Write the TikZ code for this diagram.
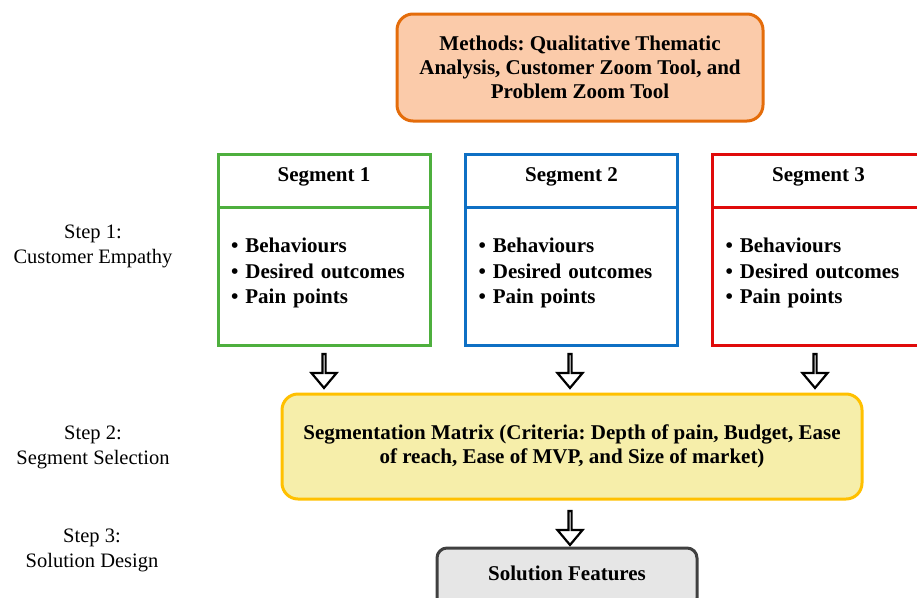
\documentclass[tikz,border=0pt]{standalone}
\usepackage{fontspec}
\setmainfont{Liberation Serif}
\usetikzlibrary{shapes.arrows}
\definecolor{methodsline}{HTML}{E46C0A}
\definecolor{methodsfill}{HTML}{FBCBAA}
\definecolor{segone}{HTML}{4EAF3E}
\definecolor{segtwo}{HTML}{0F70C4}
\definecolor{segthree}{HTML}{E00A0A}
\definecolor{matrixline}{HTML}{FFC000}
\definecolor{matrixfill}{HTML}{F6EEAA}
\definecolor{solline}{HTML}{404040}
\definecolor{solfill}{HTML}{E6E6E6}
\frenchspacing
\newcommand{\boxfont}{\fontsize{21}{24}\selectfont\bfseries}
\tikzstyle{roundbox}=[rectangle, draw, rounded corners=16pt, line width=3pt, align=center, font=\boxfont]
\tikzstyle{seghead}=[rectangle, draw, line width=3pt, minimum width=212pt, minimum height=53pt, text depth=12pt, font=\boxfont]
\tikzstyle{segbody}=[rectangle, draw, line width=3pt, minimum height=138pt, inner xsep=13pt, text width=186pt, text depth=61pt, align=left, font=\fontsize{21}{25.5}\selectfont\bfseries]
\tikzstyle{blockarrow}=[single arrow, draw, line width=2.2pt, fill=white, shape border rotate=270, minimum height=34pt, minimum width=25pt, single arrow head extend=7.5pt, single arrow tip angle=80, inner sep=0pt]
\tikzstyle{steplabel}=[align=center, font=\fontsize{20.5}{25}\selectfont]
\newcommand{\hollowarrow}{\node[blockarrow]}
\newcommand{\segitems}{• Behaviours\\• Desired outcomes\\• Pain points}

\begin{document}
\begin{tikzpicture}[x=1pt, y=-1pt]
  \useasboundingbox (0,0) rectangle (917,597);
  % methods
  \node[roundbox, draw=methodsline, fill=methodsfill, minimum width=366pt, minimum height=107pt] (methods) at (580,67.5)
    {Methods: Qualitative Thematic\\Analysis, Customer Zoom Tool, and\\Problem Zoom Tool};
  % segments
  \node[seghead, draw=segone] (seg1h) at (324,180.5) {Segment 1};
  \node[segbody, draw=segone] (seg1b) at (324,276) {\segitems};
  \node[seghead, draw=segtwo] (seg2h) at (571.5,180.5) {Segment 2};
  \node[segbody, draw=segtwo] (seg2b) at (571.5,276) {\segitems};
  \node[seghead, draw=segthree] (seg3h) at (818.5,180.5) {Segment 3};
  \node[segbody, draw=segthree] (seg3b) at (818.5,276) {\segitems};
  % matrix and solution
  \node[roundbox, draw=matrixline, fill=matrixfill, minimum width=580pt, minimum height=105pt] (matrix) at (572,446.5)
    {Segmentation Matrix (Criteria: Depth of pain, Budget, Ease\\of reach, Ease of MVP, and Size of market)};
  \node[roundbox, rounded corners=10pt, draw=solline, fill=solfill, minimum width=260pt, minimum height=60pt, text depth=10pt] (solution) at (567,578)
    {Solution Features};
  % arrows
  \hollowarrow (a1) at (324,370) {};
  \hollowarrow (a2) at (570,370) {};
  \hollowarrow (a3) at (815,370) {};
  \hollowarrow (a4) at (570,527) {};
  % steps
  \node[steplabel] (step1) at (93,246.5) {Step 1:\\Customer Empathy};
  \node[steplabel] (step2) at (93,447) {Step 2:\\Segment Selection};
  \node[steplabel] (step3) at (92,550) {Step 3:\\Solution Design};
\end{tikzpicture}
\end{document}
